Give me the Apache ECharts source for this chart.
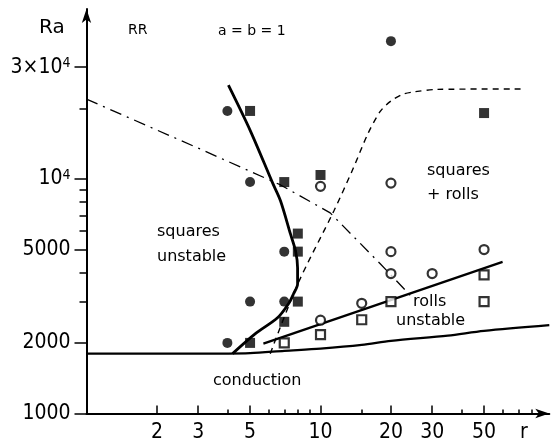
<!DOCTYPE html>
<html lang="en">
  <head>
    <meta charset="UTF-8" />
    <title>Ra vs r</title>
    <script src="https://cdn.jsdelivr.net/npm/echarts@6/dist/echarts.min.js"></script>
    <style>
      html, body { margin: 0; padding: 0; background: #fff; }
      #chart { width: 553px; height: 447px; }
    </style>
  </head>
  <body>
    <div id="chart"></div>
    <script>
      // measured points [r, Ra]
      const filledCircles = [[4, 19500], [5, 9700], [7, 4900], [5, 3000], [7, 3000], [4, 2000], [20, 38700]];
      const filledSquares = [[5, 19500], [7, 9700], [10, 10400], [8, 5850], [8, 4900], [8, 3000], [7, 2460], [5, 2000], [50, 19100]];
      const openCircles = [[10, 9300], [20, 9600], [20, 4900], [50, 5000], [20, 3950], [30, 3950], [15, 2950], [10, 2500]];
      const openSquares = [[7, 2000], [10, 2170], [15, 2510], [20, 3000], [50, 3900], [50, 3000]];

      // boundary curves [r, Ra]
      const conductionLine = [[1, 1800], [3, 1800], [5, 1810], [7, 1850], [10, 1890], [15, 1960], [20, 2040], [35, 2150], [50, 2250], [95, 2380]];
      const squaresLine = [[4.04, 25100], [5.02, 16000], [6.24, 9620], [6.75, 8060], [7.44, 5830], [7.82, 4940], [7.98, 4180], [7.98, 3570], [7.67, 3240], [7.3, 2940], [6.55, 2560], [5.27, 2190], [4.21, 1800]];
      const rollsLine = [[5.7, 1985], [60, 4430]];
      const dashedLine = [[6.1, 1800], [8, 3570], [11.4, 7300], [13.8, 11100], [15.9, 15500], [18, 19400], [20, 21500], [22.6, 23000], [25, 23500], [31.6, 24100], [72, 24200]];
      const dashDotLine = [[1, 21900], [3.07, 13400], [6.75, 9430], [11, 7170], [18, 4350], [24.7, 3120]];

      // ticks
      const xLabelTicks = [2, 3, 5, 10, 20, 30, 50];
      const xMinorTicks = [4, 6, 7, 8, 9, 15, 40, 60, 70, 80];
      const yLabelTicks = [1000, 2000, 5000, 10000, 30000];
      const yMinorTicks = [3000, 4000, 6000, 7000, 8000, 9000, 20000];

      const tickFont = "DejaVu Sans Condensed, sans-serif";
      const textFont = "DejaVu Sans, sans-serif";

      const chart = echarts.init(document.getElementById("chart"));

      const axisLineStyle = { color: "#000", width: 2 };

      chart.setOption({
        backgroundColor: "#fff",
        animation: false,
        grid: { left: 86.5, right: 3.7, top: 9.1, bottom: 33.5, containLabel: false, outerBoundsMode: "none" },
        xAxis: [
          {
            type: "log",
            min: 1,
            max: 95,
            axisLine: { show: true, lineStyle: axisLineStyle, symbol: ["none", "arrow"], symbolSize: [7, 14] },
            axisTick: { show: true, inside: true, length: 8, customValues: xLabelTicks, lineStyle: { color: "#000", width: 1.5 } },
            axisLabel: { show: true, customValues: xLabelTicks, margin: 9, color: "#000", fontSize: 21, fontFamily: tickFont },
            splitLine: { show: false },
          },
          {
            type: "log",
            position: "bottom",
            min: 1,
            max: 95,
            axisLine: { show: false },
            axisTick: { show: true, inside: true, length: 4, customValues: xMinorTicks, lineStyle: { color: "#000", width: 1.5 } },
            axisLabel: { show: false },
            splitLine: { show: false },
          },
        ],
        yAxis: [
          {
            type: "log",
            min: 1000,
            max: 53000,
            axisLine: { show: true, lineStyle: axisLineStyle, symbol: ["none", "arrow"], symbolSize: [7, 14] },
            axisTick: { show: true, length: 12, customValues: yLabelTicks, lineStyle: { color: "#000", width: 1.5 } },
            axisLabel: {
              show: true,
              customValues: yLabelTicks,
              margin: 16,
              color: "#000",
              fontSize: 21,
              fontFamily: tickFont,
              formatter: function (v) {
                const n = Math.round(v);
                if (n === 10000) return "{a|10}{s|4}";
                if (n === 30000) return "{a|3×10}{s|4}";
                return String(n);
              },
              rich: {
                a: { fontSize: 21, fontFamily: tickFont, color: "#000" },
                s: { fontSize: 14, fontFamily: tickFont, color: "#000", verticalAlign: "top" },
              },
            },
            splitLine: { show: false },
          },
          {
            type: "log",
            position: "left",
            min: 1000,
            max: 53000,
            axisLine: { show: false },
            axisTick: { show: true, length: 7, customValues: yMinorTicks, lineStyle: { color: "#000", width: 1.5 } },
            axisLabel: { show: false },
            splitLine: { show: false },
          },
        ],
        series: [
          {
            type: "line",
            data: conductionLine,
            showSymbol: false,
            smooth: 0.3,
            lineStyle: { color: "#000", width: 2.3 },
          },
          {
            type: "line",
            data: squaresLine,
            showSymbol: false,
            smooth: 0.3,
            lineStyle: { color: "#000", width: 2.8 },
          },
          {
            type: "line",
            data: rollsLine,
            showSymbol: false,
            lineStyle: { color: "#000", width: 2.3 },
          },
          {
            type: "line",
            data: dashedLine,
            showSymbol: false,
            smooth: 0.3,
            lineStyle: { color: "#000", width: 1.4, type: [6, 5] },
          },
          {
            type: "line",
            data: dashDotLine,
            showSymbol: false,
            lineStyle: { color: "#000", width: 1.3, type: [12, 6, 2, 6] },
          },
          {
            type: "scatter",
            data: filledCircles,
            symbol: "circle",
            symbolSize: 10,
            itemStyle: { color: "#000" },
            z: 5,
          },
          {
            type: "scatter",
            data: filledSquares,
            symbol: "rect",
            symbolSize: 10,
            itemStyle: { color: "#000" },
            z: 5,
          },
          {
            type: "scatter",
            data: openCircles,
            symbol: "circle",
            symbolSize: 9,
            itemStyle: { color: "#fff", borderColor: "#000", borderWidth: 2.2 },
            z: 6,
          },
          {
            type: "scatter",
            data: openSquares,
            symbol: "rect",
            symbolSize: 9,
            itemStyle: { color: "#fff", borderColor: "#000", borderWidth: 2.2 },
            z: 6,
          },
        ],
        graphic: [
          { type: "text", style: { text: "Ra", x: 39, y: 28, fontSize: 20, fontFamily: textFont, fill: "#000", verticalAlign: "middle" } },
          { type: "text", style: { text: "r", x: 520, y: 433, fontSize: 21, fontFamily: tickFont, fill: "#000", verticalAlign: "middle" } },
          { type: "text", style: { text: "RR", x: 128, y: 30, fontSize: 14, fontFamily: textFont, fill: "#000", verticalAlign: "middle" } },
          { type: "text", style: { text: "a = b = 1", x: 218, y: 31, fontSize: 14, fontFamily: textFont, fill: "#000", verticalAlign: "middle" } },
          { type: "text", style: { text: "squares", x: 157, y: 232, fontSize: 16, fontFamily: textFont, fill: "#000", verticalAlign: "middle" } },
          { type: "text", style: { text: "unstable", x: 157, y: 257, fontSize: 16, fontFamily: textFont, fill: "#000", verticalAlign: "middle" } },
          { type: "text", style: { text: "squares", x: 427, y: 171, fontSize: 16, fontFamily: textFont, fill: "#000", verticalAlign: "middle" } },
          { type: "text", style: { text: "+ rolls", x: 427, y: 195, fontSize: 16, fontFamily: textFont, fill: "#000", verticalAlign: "middle" } },
          { type: "text", style: { text: "rolls", x: 413, y: 302, fontSize: 16, fontFamily: textFont, fill: "#000", verticalAlign: "middle" } },
          { type: "text", style: { text: "unstable", x: 396, y: 321, fontSize: 16, fontFamily: textFont, fill: "#000", verticalAlign: "middle" } },
          { type: "text", style: { text: "conduction", x: 213, y: 381, fontSize: 16, fontFamily: textFont, fill: "#000", verticalAlign: "middle" } },
        ],
      });
    </script>
  </body>
</html>
